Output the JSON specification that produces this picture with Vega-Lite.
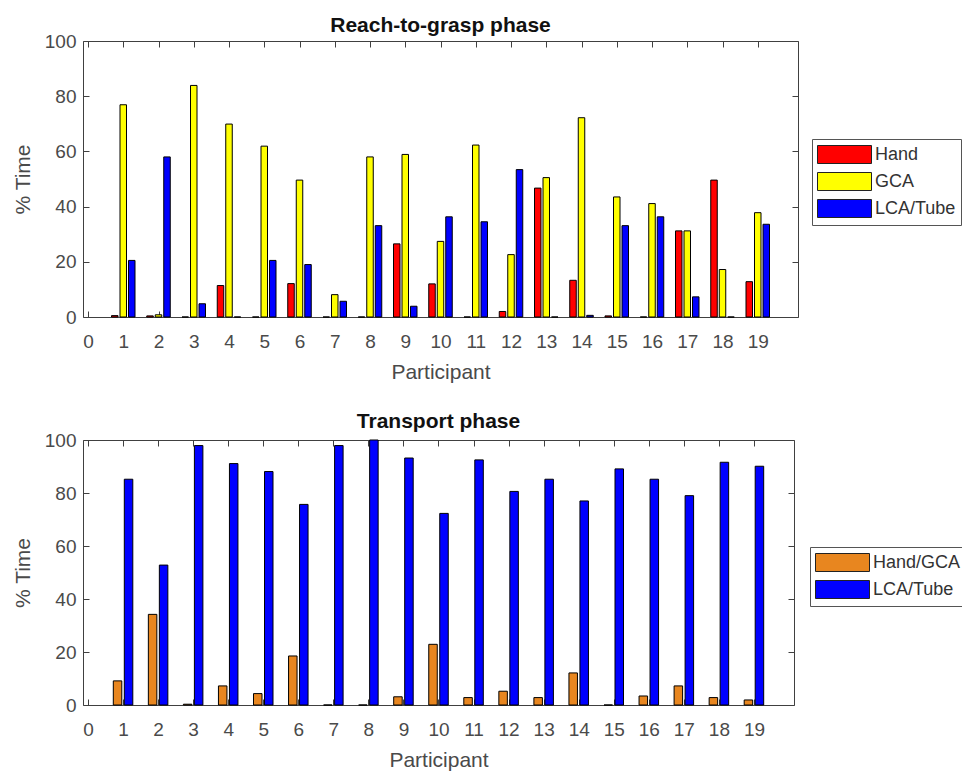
{
  "$schema": "https://vega.github.io/schema/vega-lite/v6.json",
  "background": "white",
  "padding": {"left": 11, "top": 14, "right": 0, "bottom": 0},
  "spacing": 27,
  "datasets": {
    "reach": [
      {"Participant": 1, "Group": "Hand", "Value": 0.5},
      {"Participant": 1, "Group": "GCA", "Value": 76.9},
      {"Participant": 1, "Group": "LCA/Tube", "Value": 20.5},
      {"Participant": 2, "Group": "Hand", "Value": 0.4},
      {"Participant": 2, "Group": "GCA", "Value": 0.8},
      {"Participant": 2, "Group": "LCA/Tube", "Value": 58.0},
      {"Participant": 3, "Group": "Hand", "Value": 0},
      {"Participant": 3, "Group": "GCA", "Value": 83.9},
      {"Participant": 3, "Group": "LCA/Tube", "Value": 4.8},
      {"Participant": 4, "Group": "Hand", "Value": 11.4},
      {"Participant": 4, "Group": "GCA", "Value": 69.9},
      {"Participant": 4, "Group": "LCA/Tube", "Value": 0},
      {"Participant": 5, "Group": "Hand", "Value": 0},
      {"Participant": 5, "Group": "GCA", "Value": 61.9},
      {"Participant": 5, "Group": "LCA/Tube", "Value": 20.5},
      {"Participant": 6, "Group": "Hand", "Value": 12.1},
      {"Participant": 6, "Group": "GCA", "Value": 49.6},
      {"Participant": 6, "Group": "LCA/Tube", "Value": 19.0},
      {"Participant": 7, "Group": "Hand", "Value": 0},
      {"Participant": 7, "Group": "GCA", "Value": 8.1},
      {"Participant": 7, "Group": "LCA/Tube", "Value": 5.7},
      {"Participant": 8, "Group": "Hand", "Value": 0},
      {"Participant": 8, "Group": "GCA", "Value": 58.0},
      {"Participant": 8, "Group": "LCA/Tube", "Value": 33.1},
      {"Participant": 9, "Group": "Hand", "Value": 26.5},
      {"Participant": 9, "Group": "GCA", "Value": 58.9},
      {"Participant": 9, "Group": "LCA/Tube", "Value": 3.9},
      {"Participant": 10, "Group": "Hand", "Value": 12.0},
      {"Participant": 10, "Group": "GCA", "Value": 27.4},
      {"Participant": 10, "Group": "LCA/Tube", "Value": 36.3},
      {"Participant": 11, "Group": "Hand", "Value": 0},
      {"Participant": 11, "Group": "GCA", "Value": 62.3},
      {"Participant": 11, "Group": "LCA/Tube", "Value": 34.5},
      {"Participant": 12, "Group": "Hand", "Value": 2.0},
      {"Participant": 12, "Group": "GCA", "Value": 22.6},
      {"Participant": 12, "Group": "LCA/Tube", "Value": 53.4},
      {"Participant": 13, "Group": "Hand", "Value": 46.7},
      {"Participant": 13, "Group": "GCA", "Value": 50.5},
      {"Participant": 13, "Group": "LCA/Tube", "Value": 0},
      {"Participant": 14, "Group": "Hand", "Value": 13.3},
      {"Participant": 14, "Group": "GCA", "Value": 72.2},
      {"Participant": 14, "Group": "LCA/Tube", "Value": 0.6},
      {"Participant": 15, "Group": "Hand", "Value": 0.4},
      {"Participant": 15, "Group": "GCA", "Value": 43.5},
      {"Participant": 15, "Group": "LCA/Tube", "Value": 33.1},
      {"Participant": 16, "Group": "Hand", "Value": 0},
      {"Participant": 16, "Group": "GCA", "Value": 41.1},
      {"Participant": 16, "Group": "LCA/Tube", "Value": 36.3},
      {"Participant": 17, "Group": "Hand", "Value": 31.2},
      {"Participant": 17, "Group": "GCA", "Value": 31.2},
      {"Participant": 17, "Group": "LCA/Tube", "Value": 7.3},
      {"Participant": 18, "Group": "Hand", "Value": 49.6},
      {"Participant": 18, "Group": "GCA", "Value": 17.2},
      {"Participant": 18, "Group": "LCA/Tube", "Value": 0},
      {"Participant": 19, "Group": "Hand", "Value": 12.8},
      {"Participant": 19, "Group": "GCA", "Value": 37.8},
      {"Participant": 19, "Group": "LCA/Tube", "Value": 33.6}
    ],
    "transport": [
      {"Participant": 1, "Group": "Hand/GCA", "Value": 9.1},
      {"Participant": 1, "Group": "LCA/Tube", "Value": 85.2},
      {"Participant": 2, "Group": "Hand/GCA", "Value": 34.2},
      {"Participant": 2, "Group": "LCA/Tube", "Value": 52.8},
      {"Participant": 3, "Group": "Hand/GCA", "Value": 0.3},
      {"Participant": 3, "Group": "LCA/Tube", "Value": 97.9},
      {"Participant": 4, "Group": "Hand/GCA", "Value": 7.2},
      {"Participant": 4, "Group": "LCA/Tube", "Value": 91.1},
      {"Participant": 5, "Group": "Hand/GCA", "Value": 4.3},
      {"Participant": 5, "Group": "LCA/Tube", "Value": 88.1},
      {"Participant": 6, "Group": "Hand/GCA", "Value": 18.5},
      {"Participant": 6, "Group": "LCA/Tube", "Value": 75.7},
      {"Participant": 7, "Group": "Hand/GCA", "Value": 0},
      {"Participant": 7, "Group": "LCA/Tube", "Value": 97.9},
      {"Participant": 8, "Group": "Hand/GCA", "Value": 0},
      {"Participant": 8, "Group": "LCA/Tube", "Value": 100},
      {"Participant": 9, "Group": "Hand/GCA", "Value": 3.1},
      {"Participant": 9, "Group": "LCA/Tube", "Value": 93.2},
      {"Participant": 10, "Group": "Hand/GCA", "Value": 22.9},
      {"Participant": 10, "Group": "LCA/Tube", "Value": 72.3},
      {"Participant": 11, "Group": "Hand/GCA", "Value": 2.8},
      {"Participant": 11, "Group": "LCA/Tube", "Value": 92.5},
      {"Participant": 12, "Group": "Hand/GCA", "Value": 5.2},
      {"Participant": 12, "Group": "LCA/Tube", "Value": 80.6},
      {"Participant": 13, "Group": "Hand/GCA", "Value": 2.8},
      {"Participant": 13, "Group": "LCA/Tube", "Value": 85.2},
      {"Participant": 14, "Group": "Hand/GCA", "Value": 12.1},
      {"Participant": 14, "Group": "LCA/Tube", "Value": 77.0},
      {"Participant": 15, "Group": "Hand/GCA", "Value": 0},
      {"Participant": 15, "Group": "LCA/Tube", "Value": 89.1},
      {"Participant": 16, "Group": "Hand/GCA", "Value": 3.4},
      {"Participant": 16, "Group": "LCA/Tube", "Value": 85.2},
      {"Participant": 17, "Group": "Hand/GCA", "Value": 7.2},
      {"Participant": 17, "Group": "LCA/Tube", "Value": 79.0},
      {"Participant": 18, "Group": "Hand/GCA", "Value": 2.8},
      {"Participant": 18, "Group": "LCA/Tube", "Value": 91.6},
      {"Participant": 19, "Group": "Hand/GCA", "Value": 1.9},
      {"Participant": 19, "Group": "LCA/Tube", "Value": 90.1}
    ]
  },
  "vconcat": [
    {
      "title": {"text": "Reach-to-grasp phase", "offset": -4},
      "width": 715,
      "height": 276,
      "data": {"name": "reach"},
      "encoding": {
        "x": {"field": "Participant", "type": "quantitative", "scale": {"domain": [0, 20], "nice": false, "zero": false},
              "axis": {"title": "Participant", "values": [0,1,2,3,4,5,6,7,8,9,10,11,12,13,14,15,16,17,18,19]}},
        "y": {"field": "Value", "type": "quantitative", "scale": {"domain": [0, 100], "nice": false},
              "axis": {"title": "% Time", "values": [0,20,40,60,80,100]}},
        "color": {"field": "Group", "type": "nominal",
                  "scale": {"domain": ["Hand", "GCA", "LCA/Tube"], "range": ["#ff0000", "#ffff00", "#0000ff"]},
                  "legend": {"title": null, "orient": "none", "legendX": 729, "legendY": 98}}
      },
      "layer": [
        {"transform": [{"filter": "datum.Group === 'Hand'"}],
         "mark": {"type": "bar", "width": 6.5, "xOffset": -8.5, "stroke": "black", "strokeWidth": 1}},
        {"transform": [{"filter": "datum.Group === 'GCA'"}],
         "mark": {"type": "bar", "width": 6.5, "xOffset": 0, "stroke": "black", "strokeWidth": 1},
         "encoding": {"x": {"field": "Participant", "type": "quantitative", "axis": null}, "y": {"field": "Value", "type": "quantitative", "axis": null}}},
        {"transform": [{"filter": "datum.Group === 'LCA/Tube'"}],
         "mark": {"type": "bar", "width": 6.5, "xOffset": 8.5, "stroke": "black", "strokeWidth": 1},
         "encoding": {"x": {"field": "Participant", "type": "quantitative", "axis": null}, "y": {"field": "Value", "type": "quantitative", "axis": null}}},
        {"mark": {"type": "point", "opacity": 0},
         "encoding": {
           "x": {"field": "Participant", "type": "quantitative", "axis": {"orient": "top", "labels": false, "title": null, "values": [0,1,2,3,4,5,6,7,8,9,10,11,12,13,14,15,16,17,18,19]}},
           "y": {"field": "Value", "type": "quantitative", "axis": {"orient": "right", "labels": false, "title": null, "values": [0,20,40,60,80,100]}},
           "color": {"value": "black"}
         }}
      ],
      "resolve": {"axis": {"x": "independent", "y": "independent"}}
    },
    {
      "title": {"text": "Transport phase", "offset": -1},
      "width": 711,
      "height": 265,
      "data": {"name": "transport"},
      "encoding": {
        "x": {"field": "Participant", "type": "quantitative", "scale": {"domain": [0, 20], "nice": false, "zero": false},
              "axis": {"title": "Participant", "values": [0,1,2,3,4,5,6,7,8,9,10,11,12,13,14,15,16,17,18,19]}},
        "y": {"field": "Value", "type": "quantitative", "scale": {"domain": [0, 100], "nice": false},
              "axis": {"title": "% Time", "values": [0,20,40,60,80,100]}},
        "color": {"field": "Group", "type": "nominal",
                  "scale": {"domain": ["Hand/GCA", "LCA/Tube"], "range": ["#e8861f", "#0000ff"]},
                  "legend": {"title": null, "orient": "none", "legendX": 727, "legendY": 107}}
      },
      "layer": [
        {"transform": [{"filter": "datum.Group === 'Hand/GCA'"}],
         "mark": {"type": "bar", "width": 8.5, "xOffset": -5.5, "stroke": "black", "strokeWidth": 1}},
        {"transform": [{"filter": "datum.Group === 'LCA/Tube'"}],
         "mark": {"type": "bar", "width": 8.5, "xOffset": 5.5, "stroke": "black", "strokeWidth": 1},
         "encoding": {"x": {"field": "Participant", "type": "quantitative", "axis": null}, "y": {"field": "Value", "type": "quantitative", "axis": null}}},
        {"mark": {"type": "point", "opacity": 0},
         "encoding": {
           "x": {"field": "Participant", "type": "quantitative", "axis": {"orient": "top", "labels": false, "title": null, "values": [0,1,2,3,4,5,6,7,8,9,10,11,12,13,14,15,16,17,18,19]}},
           "y": {"field": "Value", "type": "quantitative", "axis": {"orient": "right", "labels": false, "title": null, "values": [0,20,40,60,80,100]}},
           "color": {"value": "black"}
         }}
      ],
      "resolve": {"axis": {"x": "independent", "y": "independent"}}
    }
  ],
  "resolve": {"scale": {"color": "independent"}, "legend": {"color": "independent"}},
  "config": {
    "font": "Liberation Sans",
    "view": {"stroke": "#404040", "strokeWidth": 1},
    "title": {"font": "Liberation Sans", "fontSize": 21, "fontWeight": "bold", "color": "#111111", "anchor": "middle", "frame": "group"},
    "axis": {
      "domain": false, "grid": false,
      "labelFont": "Liberation Sans", "labelFontSize": 19, "labelColor": "#4a4a4a",
      "titleFont": "Liberation Sans", "titleFontSize": 21, "titleFontWeight": "normal", "titleColor": "#4a4a4a",
      "tickColor": "#404040", "tickSize": -6
    },
    "axisX": {"labelPadding": 21, "titlePadding": 10},
    "axisY": {"labelPadding": 13, "titlePadding": 11},
    "legend": {
      "labelFont": "Liberation Sans", "labelFontSize": 18, "labelColor": "#333333",
      "symbolType": "M-1,-0.9H4.4V0.9H-1Z", "symbolSize": 400,
      "symbolStrokeColor": "#222222", "symbolStrokeWidth": 1, "symbolOpacity": 1,
      "strokeColor": "#555555", "fillColor": "white", "padding": 5, "rowPadding": 4, "labelOffset": 37
    }
  }
}
